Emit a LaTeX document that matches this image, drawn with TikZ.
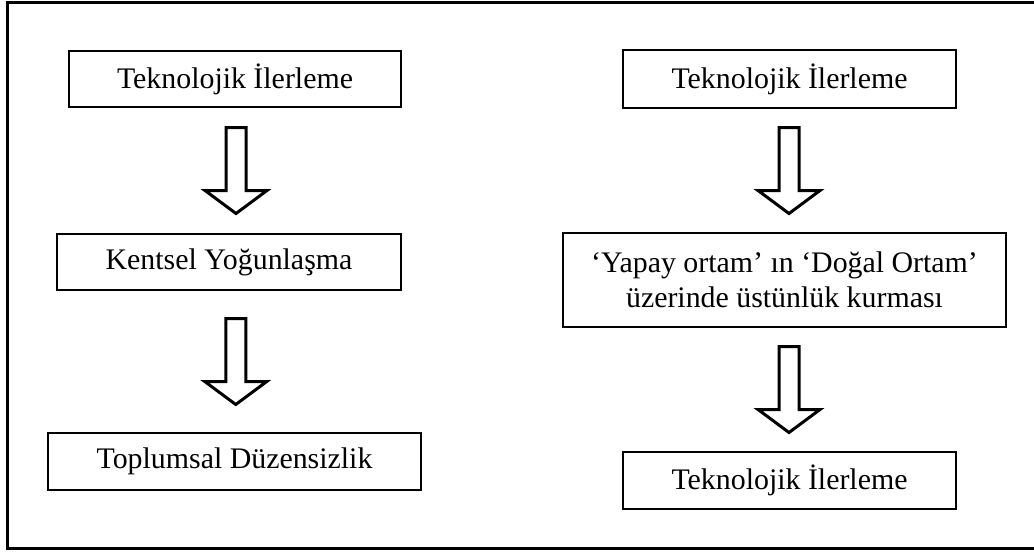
\documentclass[tikz,border=0pt]{standalone}
\usepackage{fontspec}
\setmainfont{Liberation Serif}
\usetikzlibrary{calc}

\tikzset{
  kutu/.style={draw, line width=0.04cm, inner sep=0pt, align=center,
    font=\fontsize{17}{20}\selectfont},
  okcizgi/.style={draw, line width=0.06cm, line join=miter, fill=white}
}

\newcommand{\bosok}[3]{%
  \coordinate (m) at ($(#1.south)!0.5!(#2.north)+(#3,0)$);
  \draw[okcizgi] ($(m)+(-10,-43)$) -- ($(m)+(10,-43)$) -- ($(m)+(10,20)$)
    -- ($(m)+(31,20)$) -- ($(m)+(0,43)$) -- ($(m)+(-31,20)$)
    -- ($(m)+(-10,20)$) -- cycle;}

\begin{document}
\begin{tikzpicture}[x=0.02cm, y=-0.02cm]
    \useasboundingbox (0,0) rectangle (1034,551);
    \draw[line width=0.06cm] (1034,2.5) -- (7.5,2.5) -- (7.5,548) -- (1034,548);

    \begin{scope}
      \node[kutu, minimum width=6.64cm, minimum height=1.12cm] (l1) at (235,79) {Teknolojik İlerleme};
      \node[kutu, minimum width=6.88cm, minimum height=1.12cm] (l2) at (229,262) {Kentsel Yoğunlaşma};
      \node[kutu, minimum width=7.46cm, minimum height=1.14cm] (l3) at (234.5,461.5) {Toplumsal Düzensizlik};
    \end{scope}

    \begin{scope}
      \node[kutu, minimum width=6.66cm, minimum height=1.16cm] (r1) at (789.5,79) {Teknolojik İlerleme};
      \node[kutu, minimum width=8.86cm, minimum height=1.88cm] (r2) at (784.5,280)
        {‘Yapay ortam’ ın ‘Doğal Ortam’\\üzerinde üstünlük kurması};
      \node[kutu, minimum width=6.66cm, minimum height=1.14cm] (r3) at (789.5,480.5) {Teknolojik İlerleme};
    \end{scope}

    \foreach \a/\b/\d in {l1/l2/4, l2/l3/4, r1/r2/2, r2/r3/2}
      \bosok{\a}{\b}{\d};

\end{tikzpicture}
\end{document}
